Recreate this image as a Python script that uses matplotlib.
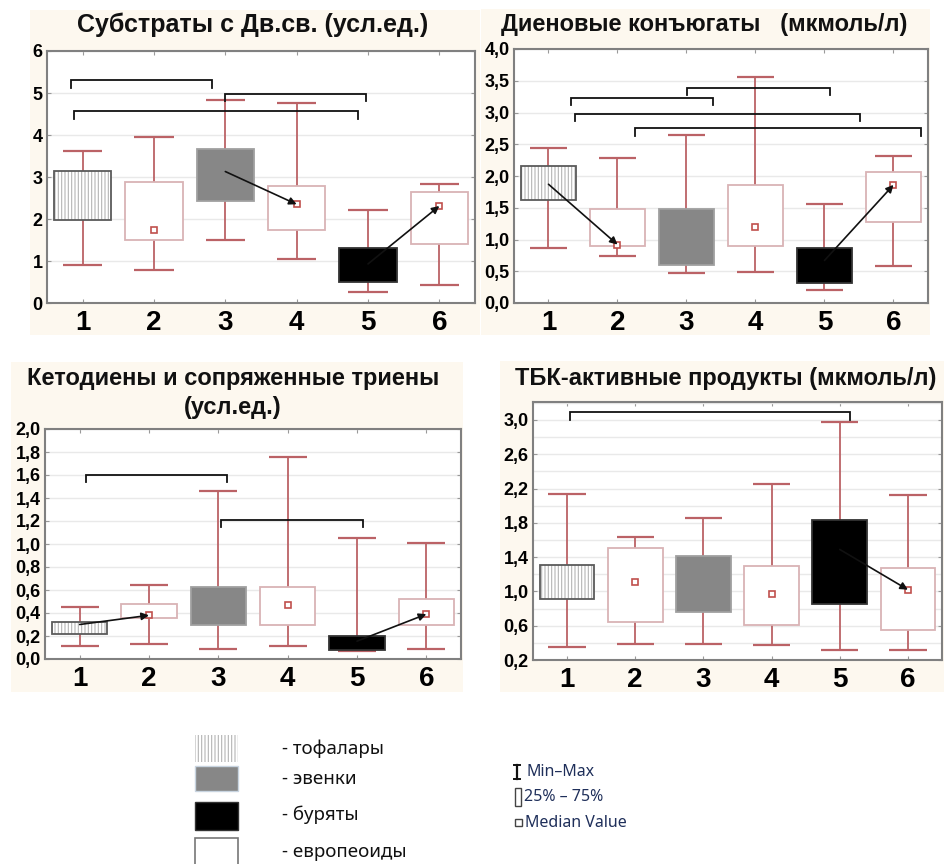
import numpy as np
import matplotlib
matplotlib.use('Agg')
import matplotlib.pyplot as plt
from matplotlib.patches import Rectangle
from matplotlib.ticker import MultipleLocator, FuncFormatter

W, H = 945, 864
nan = np.nan

groups = [1, 2, 3, 4, 5, 6]
styles = ['hatch', 'white', 'gray', 'white', 'black', 'white']

# Субстраты с Дв.св. (усл.ед.)
sub_min = [0.90, 0.78, 1.51, 1.05, 0.26, 0.42]
sub_q1 = [1.98, 1.49, 2.44, 1.73, 0.50, 1.41]
sub_q3 = [3.15, 2.89, 3.66, 2.79, 1.32, 2.64]
sub_max = [3.63, 3.95, 4.83, 4.76, 2.22, 2.84]
sub_med = [nan, 1.74, 3.13, 2.35, 0.93, 2.31]
sub_arrows = [(3, 4), (5, 6)]
sub_br_left = [0.84, 2.99, 0.88]
sub_br_right = [2.82, 4.97, 4.86]
sub_br_level = [5.30, 4.98, 4.56]

# Диеновые конъюгаты (мкмоль/л)
dc_min = [0.86, 0.74, 0.47, 0.49, 0.20, 0.59]
dc_q1 = [1.62, 0.89, 0.60, 0.89, 0.31, 1.27]
dc_q3 = [2.15, 1.48, 1.48, 1.86, 0.87, 2.06]
dc_max = [2.44, 2.28, 2.64, 3.56, 1.56, 2.32]
dc_med = [1.87, 0.92, nan, 1.20, 0.67, 1.86]
dc_arrows = [(1, 2), (5, 6)]
dc_br_left = [1.33, 3.01, 1.38, 2.26]
dc_br_right = [3.39, 5.08, 5.52, 6.40]
dc_br_level = [3.23, 3.39, 2.98, 2.75]

# Кетодиены и сопряженные триены (усл.ед.)
kt_min = [0.11, 0.13, 0.09, 0.11, 0.07, 0.09]
kt_q1 = [0.22, 0.36, 0.30, 0.30, 0.08, 0.30]
kt_q3 = [0.32, 0.48, 0.63, 0.63, 0.20, 0.52]
kt_max = [0.45, 0.64, 1.46, 1.76, 1.05, 1.01]
kt_med = [0.30, 0.38, nan, 0.47, 0.155, 0.39]
kt_arrows = [(1, 2), (5, 6)]
kt_br_left = [1.09, 3.04]
kt_br_right = [3.13, 5.09]
kt_br_level = [1.60, 1.21]

# ТБК-активные продукты (мкмоль/л)
tbk_min = [0.35, 0.39, 0.39, 0.38, 0.32, 0.32]
tbk_q1 = [0.91, 0.64, 0.76, 0.61, 0.85, 0.55]
tbk_q3 = [1.31, 1.51, 1.41, 1.30, 1.83, 1.27]
tbk_max = [2.14, 1.64, 1.86, 2.25, 2.98, 2.12]
tbk_med = [nan, 1.11, nan, 0.97, 1.49, 1.02]
tbk_arrows = [(5, 6)]
tbk_br_left = [1.04]
tbk_br_right = [5.15]
tbk_br_level = [3.09]

legend_names = ['- тофалары', '- эвенки', '- буряты', '- европеоиды']

CREAM = '#fdf8ef'
WHISK = '#bb6266'
PINK = '#d9b3b5'
MED = '#c0504d'
SPINE = '#808080'

plt.rcParams['font.family'] = ['Liberation Sans', 'DejaVu Sans']
plt.rcParams['hatch.linewidth'] = 0.8

fig = plt.figure(figsize=(W / 100, H / 100), dpi=100)


def px_rect(l, t, r, b):
    return [l / W, 1 - b / H, (r - l) / W, (b - t) / H]


def cream(l, t, r, b):
    x, y, w, h = px_rect(l, t, r, b)
    fig.patches.append(Rectangle((x, y), w, h, transform=fig.transFigure,
                                 fc=CREAM, ec='none', zorder=-10))


def comma(v, nd):
    return ('%.' + str(nd) + 'f') % v if nd == 0 else (('%.' + str(nd) + 'f') % v).replace('.', ',')


def panel(rect, lo, q1, q3, hi, med, arrows, brl, brr, bry, ylim, major, minor, nd):
    ax = fig.add_axes(px_rect(*rect))
    ax.set_xlim(0.5, 6.5)
    ax.set_ylim(*ylim)
    ax.set_axisbelow(True)
    ax.yaxis.set_major_locator(MultipleLocator(major))
    ax.yaxis.set_minor_locator(MultipleLocator(minor))
    ax.yaxis.set_major_formatter(FuncFormatter(lambda v, p: comma(v, nd)))
    ax.yaxis.grid(True, which='both', color='#e9e9e9', lw=1)
    ax.set_xticks(groups)
    ax.set_xticklabels([str(g) for g in groups])
    for s in ax.spines.values():
        s.set_color(SPINE)
        s.set_linewidth(1.5)
    ax.tick_params(which='major', direction='in', length=3, color='#999999',
                   top=True, right=True)
    ax.tick_params(which='minor', length=0)
    ax.tick_params(axis='x', labelsize=20, pad=5)
    ax.tick_params(axis='y', labelsize=13, pad=3)
    for lab in ax.get_xticklabels() + ax.get_yticklabels():
        lab.set_fontweight('bold')

    x = np.array(groups, dtype=float)
    ax.vlines(x, lo, hi, color=WHISK, lw=1.3, zorder=2)
    ax.hlines(lo, x - 0.275, x + 0.275, color=WHISK, lw=1.6, zorder=2)
    ax.hlines(hi, x - 0.275, x + 0.275, color=WHISK, lw=1.6, zorder=2)

    for i, st in enumerate(styles):
        h = q3[i] - q1[i]
        if st == 'hatch':
            ax.bar(x[i], h, bottom=q1[i], width=0.8, color='white', ec='#b4b4b4',
                   lw=0, hatch='|||||', zorder=3)
            ax.bar(x[i], h, bottom=q1[i], width=0.8, fill=False, ec='#5a5a5a',
                   lw=1.3, zorder=4)
        elif st == 'gray':
            ax.bar(x[i], h, bottom=q1[i], width=0.8, color='#878787', ec='#a0a0a0',
                   lw=1.3, zorder=3)
        elif st == 'black':
            ax.bar(x[i], h, bottom=q1[i], width=0.8, color='black', ec='#333333',
                   lw=1.3, zorder=3)
        else:
            ax.bar(x[i], h, bottom=q1[i], width=0.8, color='white', ec=PINK,
                   lw=1.3, zorder=3)
            ax.plot(x[i], med[i], 's', ms=4.5, mfc='white', mec=MED, mew=1.2, zorder=5)

    for a, b in arrows:
        ax.annotate('', xy=(b, med[b - 1]), xytext=(a, med[a - 1]),
                    arrowprops=dict(arrowstyle='-|>', color='#111111', lw=1.2,
                                    mutation_scale=11, shrinkA=0, shrinkB=0),
                    zorder=6)

    drop = 0.029 * (ylim[1] - ylim[0])
    for l, r, y in zip(brl, brr, bry):
        ax.plot([l, l, r, r], [y - drop, y, y, y - drop], color='#111111', lw=1.3,
                zorder=6, solid_joinstyle='miter')
    return ax


cream(30, 10, 480, 335)
cream(481, 9, 930, 335)
cream(11, 362, 463, 692)
cream(500, 361, 945, 692)

panel((47, 51, 475, 303), sub_min, sub_q1, sub_q3, sub_max, sub_med, sub_arrows,
      sub_br_left, sub_br_right, sub_br_level, (0, 6), 1, 1, 0)
panel((514, 49, 928, 303), dc_min, dc_q1, dc_q3, dc_max, dc_med, dc_arrows,
      dc_br_left, dc_br_right, dc_br_level, (0, 4), 0.5, 0.5, 1)
panel((45, 429, 461, 659), kt_min, kt_q1, kt_q3, kt_max, kt_med, kt_arrows,
      kt_br_left, kt_br_right, kt_br_level, (0, 2), 0.2, 0.2, 1)
ax4 = panel((533, 402, 942, 660), tbk_min, tbk_q1, tbk_q3, tbk_max, tbk_med, tbk_arrows,
            tbk_br_left, tbk_br_right, tbk_br_level, (0.2, 3.21), 0.4, 0.2, 1)
ax4.yaxis.set_major_locator(plt.FixedLocator(np.arange(0.2, 3.01, 0.4)))

title_kw = dict(fontweight='bold', ha='center', va='center', color='#111111')
fig.text(253 / W, 1 - 25 / H, 'Субстраты с Дв.св. (усл.ед.)', fontsize=18, **title_kw)
fig.text(704 / W, 1 - 25 / H, 'Диеновые конъюгаты   (мкмоль/л)', fontsize=17, **title_kw)
fig.text(233 / W, 1 - 379 / H, 'Кетодиены и сопряженные триены', fontsize=17, **title_kw)
fig.text(233 / W, 1 - 407 / H, '(усл.ед.)', fontsize=17, **title_kw)
fig.text(726 / W, 1 - 378 / H, 'ТБК-активные продукты (мкмоль/л)', fontsize=17, **title_kw)

# legend block at the bottom
lg = fig.add_axes([0, 0, 1, 1], zorder=-5)
lg.set_xlim(0, W)
lg.set_ylim(H, 0)
lg.axis('off')
lg.add_patch(Rectangle((195, 735), 43, 27, fc='white', ec='#b4b4b4', lw=0, hatch='|||||'))
lg.add_patch(Rectangle((195, 766), 43, 25, fc='#878787', ec='#c8d4e0', lw=1))
lg.add_patch(Rectangle((195, 802), 43, 28, fc='black', ec='#333333', lw=1))
lg.add_patch(Rectangle((195, 838), 43, 30, fc='white', ec='#777777', lw=1.2))
for name, yc in zip(legend_names, [749, 779, 815, 852]):
    lg.text(282, yc, name, fontsize=13.5, va='center', ha='left', family='Noto Sans',
            color='#111111')

key_kw = dict(fontsize=11.5, va='center', ha='left', family='Noto Sans', color='#1f2f5a')
lg.plot([517, 517], [765, 779], color='#111111', lw=1.6)
lg.plot([514, 520], [765, 765], color='#111111', lw=1.4)
lg.plot([514, 520], [779, 779], color='#111111', lw=1.4)
lg.text(527, 772, 'Min–Max', **key_kw)
lg.add_patch(Rectangle((515, 788), 6, 18, fc='white', ec='#444444', lw=1))
lg.text(524, 797, '25% – 75%', **key_kw)
lg.add_patch(Rectangle((515, 819), 7, 7, fc='white', ec='#444444', lw=1))
lg.text(525, 823, 'Median Value', **key_kw)

fig.savefig('out.png', dpi=100, facecolor='white')
